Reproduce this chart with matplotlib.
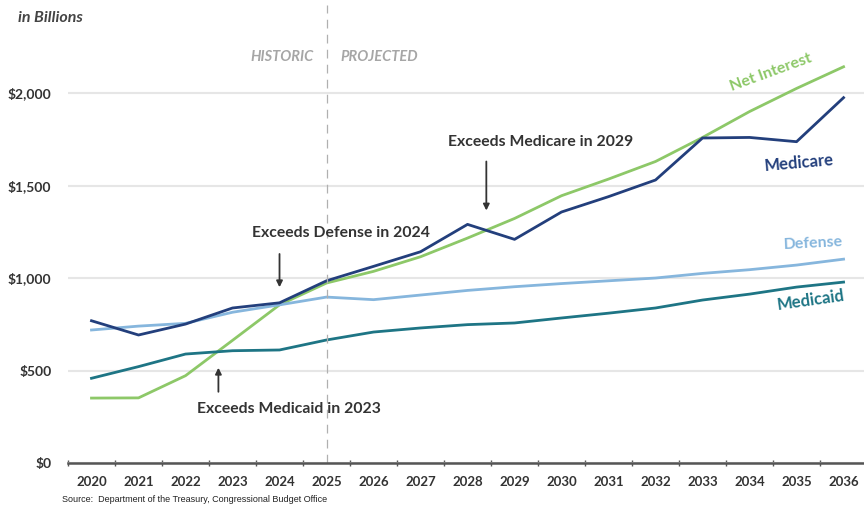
import numpy as np
import matplotlib.pyplot as plt

plt.rcParams['font.family'] = ['Lato', 'DejaVu Sans']

years = list(range(2020, 2037))
medicare = [769, 692, 751, 838, 866, 985, 1063, 1142, 1290, 1209, 1357, 1440, 1530, 1757, 1760, 1737, 1975]
net_interest = [351, 352, 472, 663, 855, 973, 1036, 1115, 1216, 1322, 1445, 1535, 1630, 1760, 1900, 2025, 2142]
defense = [719, 740, 755, 815, 855, 897, 883, 908, 933, 953, 970, 985, 1000, 1025, 1045, 1070, 1102]
medicaid = [458, 521, 589, 607, 611, 665, 708, 730, 748, 757, 784, 810, 838, 881, 913, 951, 978]
yticks = [0, 500, 1000, 1500, 2000]
ytick_labels = ['$0', '$500', '$1,000', '$1,500', '$2,000']

c_med = '#233f7c'
c_int = '#8dc868'
c_def = '#86b6dd'
c_mcd = '#1e7585'
dark = '#333333'

fig = plt.figure(figsize=(8.64, 5.09), dpi=100)
ax = fig.add_axes([68/864, 46/509, 800/864, 458/509])

x = np.arange(len(years))
ax.plot(x, net_interest, color=c_int, lw=2)
ax.plot(x, defense, color=c_def, lw=2)
ax.plot(x, medicaid, color=c_mcd, lw=2)
ax.plot(x, medicare, color=c_med, lw=2)

ax.set_xlim(-0.5, len(years) - 0.48)
ax.set_ylim(0, 2476)
ax.set_yticks(yticks)
ax.set_yticklabels(ytick_labels, fontsize=10, fontweight='bold', color=dark)
ax.set_xticks(x)
ax.set_xticklabels([str(y) for y in years], fontsize=9.5, fontweight='bold', color=dark)
ax.set_xticks(np.arange(-0.5, len(years)), minor=True)
ax.tick_params(axis='x', which='major', length=0, pad=9)
ax.tick_params(axis='x', which='minor', length=4, width=1, color='#555555', direction='inout')
ax.tick_params(axis='y', length=0, pad=12)
ax.grid(axis='y', color='#e6e6e6', lw=1.5)
ax.set_axisbelow(True)
for s in ['top', 'right', 'left']:
    ax.spines[s].set_visible(False)
ax.spines['bottom'].set_color('#555555')
ax.spines['bottom'].set_linewidth(1.8)

# historic / projected divider
ax.axvline(5, color='#b0b0b0', lw=0.9, ls=(0, (7, 5)))
ax.text(4.72, 2195, 'HISTORIC', ha='right', va='center', fontsize=10.5, style='italic',
        fontweight='bold', color='#a6a6a6')
ax.text(5.3, 2195, 'PROJECTED', ha='left', va='center', fontsize=10.5, style='italic',
        fontweight='bold', color='#a6a6a6')

fig.text(18/864, 1 - 18/509, 'in Billions', fontsize=11.5, style='italic', fontweight='bold',
         color='#444444', va='center')

# annotations
ax.annotate('', xy=(8.4, 1350), xytext=(8.4, 1645),
            arrowprops=dict(arrowstyle='-|>', color=dark, lw=1.3, mutation_scale=9))
ax.text(9.55, 1733, 'Exceeds Medicare in 2029', ha='center', va='center', fontsize=11.3,
        fontweight='bold', color=dark)
ax.annotate('', xy=(4.0, 935), xytext=(4.0, 1145),
            arrowprops=dict(arrowstyle='-|>', color=dark, lw=1.3, mutation_scale=9))
ax.text(5.3, 1242, 'Exceeds Defense in 2024', ha='center', va='center', fontsize=11.3,
        fontweight='bold', color=dark)
ax.annotate('', xy=(2.7, 530), xytext=(2.7, 370),
            arrowprops=dict(arrowstyle='-|>', color=dark, lw=1.3, mutation_scale=9))
ax.text(4.2, 292, 'Exceeds Medicaid in 2023', ha='center', va='center', fontsize=11.3,
        fontweight='bold', color=dark)

# series labels
ax.text(14.45, 2110, 'Net Interest', ha='center', va='center', fontsize=11.5, fontweight='bold',
        color=c_int, rotation=20)
ax.text(15.05, 1620, 'Medicare', ha='center', va='center', fontsize=12, fontweight='bold',
        color=c_med, rotation=5)
ax.text(15.35, 1185, 'Defense', ha='center', va='center', fontsize=11.5, fontweight='bold',
        color=c_def, rotation=3)
ax.text(15.3, 880, 'Medicaid', ha='center', va='center', fontsize=12, fontweight='bold',
        color=c_mcd, rotation=8)

fig.text(62/864, 1 - 500/509, 'Source:  Department of the Treasury, Congressional Budget Office',
         fontsize=6.5, family='Liberation Sans', color='#222222', va='center')

fig.savefig('out.png', dpi=100)
